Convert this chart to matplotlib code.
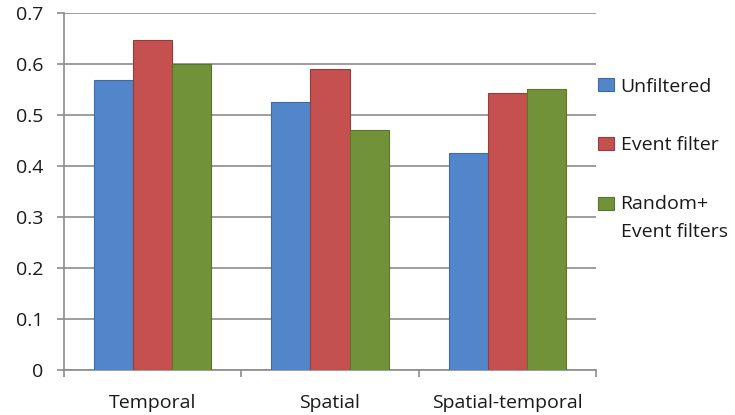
import matplotlib
matplotlib.use("Agg")
import matplotlib.pyplot as plt
import numpy as np

categories = ["Temporal", "Spatial", "Spatial-temporal"]
series_names = ["Unfiltered", "Event filter", "Random+\nEvent filters"]
unfiltered = [0.570, 0.527, 0.426]
event_filter = [0.648, 0.591, 0.544]
random_event = [0.600, 0.471, 0.552]
yticks = [0, 0.1, 0.2, 0.3, 0.4, 0.5, 0.6, 0.7]

colors = ["#5286CB", "#C45150", "#72923A"]
edge_colors = ["#41699F", "#963D3B", "#5A742C"]

plt.rcParams['font.family'] = ['Open Sans', 'DejaVu Sans']
text_color = "#1A1A1A"

fig = plt.figure(figsize=(7.35, 4.15), dpi=100)
ax = fig.add_axes([64/735, 45/415, (596-64)/735, (370-13.5)/415])

x = np.arange(len(categories))
w = 0.22
for i, (vals, name) in enumerate(zip([unfiltered, event_filter, random_event], series_names)):
    ax.bar(x + (i - 1) * w, vals, width=w, color=colors[i], edgecolor=edge_colors[i],
           linewidth=0.8, label=name, zorder=3)

ax.set_xlim(-0.5, 2.5)
ax.set_ylim(0, 0.7)
ax.set_yticks(yticks)
ax.set_yticklabels([f"{t:g}" for t in yticks], fontsize=14, color=text_color)
ax.yaxis.grid(True, color="#8C8C8C", linewidth=1.2, zorder=0)
ax.set_axisbelow(True)

ax.set_xticks([-0.5, 0.5, 1.5, 2.5])
ax.set_xticklabels([])
ax.set_xticks(x, minor=True)
ax.set_xticklabels(categories, minor=True, fontsize=14, color=text_color)
ax.tick_params(axis='x', which='minor', length=0, pad=17)
ax.tick_params(axis='x', which='major', length=5, color="#8C8C8C", width=1.2)
ax.tick_params(axis='y', length=5, color="#8C8C8C", width=1.2, pad=10)

for s in ['top', 'right']:
    ax.spines[s].set_visible(False)
for s in ['left', 'bottom']:
    ax.spines[s].set_color("#8C8C8C")
    ax.spines[s].set_linewidth(1.2)

leg = fig.legend(loc='upper left', bbox_to_anchor=(598/735, 1 - 77.5/415), frameon=False,
                 fontsize=14, handlelength=0.8, handleheight=0.67, handletextpad=0.36,
                 labelspacing=2.1, borderpad=0, borderaxespad=0)
for t in leg.get_texts():
    t.set_color(text_color)
    t.set_linespacing(1.68)
# align the marker of the two-line entry with its first line
h3 = leg.legend_handles[2]
h3.set_y(h3.get_y() + 10.6)

fig.savefig("out.png", dpi=100)
